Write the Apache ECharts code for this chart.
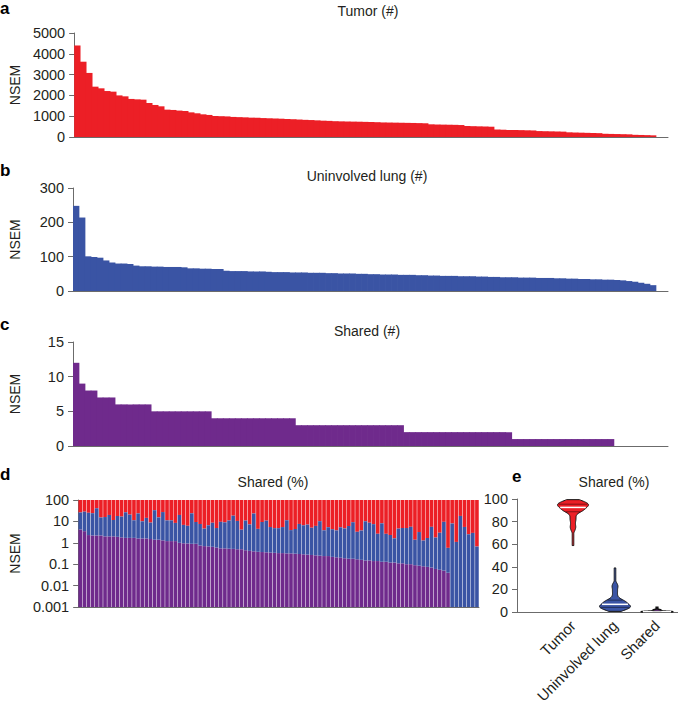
<!DOCTYPE html>
<html>
<head>
<meta charset="utf-8">
<script src="https://cdn.jsdelivr.net/npm/echarts@6/dist/echarts.min.js"></script>
<style>
html,body{margin:0;padding:0;background:#fff;}
#chart{width:678px;height:708px;}
</style>
</head>
<body>
<div id="chart"></div>
<script>
// ---------------- DATA ----------------
const sampleIds = Array.from({length: 97}, (_, i) => String(i + 1));

// Panel a: Tumor NSEM counts (#)
const tumorCounts = [4400, 3620, 3080, 2420, 2340, 2210, 2180, 2000, 1955, 1830, 1810, 1795, 1635, 1540, 1475, 1315, 1300, 1270, 1250, 1185, 1140, 1090, 1060, 1010,
  1000, 990, 965, 955, 945, 930, 920, 910, 900, 890, 880, 865, 855, 840, 825, 815, 800, 785, 775,
  760, 752, 745, 740, 735, 728, 720, 712, 700, 695, 690, 685, 680, 675, 668, 660,
  610, 600, 595, 590, 585, 575, 530, 520, 512, 505, 495, 360, 350, 340, 335, 330, 322, 315,
  285, 278, 272, 265, 258, 225, 215, 208, 200, 192, 185, 155, 148, 142, 135, 128, 105, 98, 90, 80];

// Panel b: Uninvolved lung NSEM counts (#)
const lungCounts = [248, 214, 101, 99, 97, 89, 83, 80, 80, 79, 74,
  72, 72, 71, 71, 70, 70, 70, 69, 66, 66, 65, 65, 64, 64,
  59, 58, 58, 58, 57, 57, 57, 56, 55, 55, 55, 54, 54, 54, 53, 53, 53, 52,
  52, 51, 51, 51, 50, 50, 49, 49, 48, 48, 48, 47, 47, 47, 46, 46,
  45, 45, 44, 44, 44, 43, 43, 43, 42, 42, 41, 41, 40, 40, 40, 39, 39, 39, 38, 38, 38, 37, 37,
  36, 36, 35, 35, 34, 34, 33, 33, 32, 31, 29, 27, 24, 21, 17];

// Panel c: Shared NSEM counts (#)
const sharedCounts = [12, 9, 8, 8, 7, 7, 7, 6, 6, 6, 6, 6, 6,
  5, 5, 5, 5, 5, 5, 5, 5, 5, 5,
  4, 4, 4, 4, 4, 4, 4, 4, 4, 4, 4, 4, 4, 4,
  3, 3, 3, 3, 3, 3, 3, 3, 3, 3, 3, 3, 3, 3, 3, 3, 3, 3,
  2, 2, 2, 2, 2, 2, 2, 2, 2, 2, 2, 2, 2, 2, 2, 2, 2, 2,
  1, 1, 1, 1, 1, 1, 1, 1, 1, 1, 1, 1, 1, 1, 1, 1, 1,
  0, 0, 0, 0, 0, 0, 0];

// Panel d: percentages per sample
const sharedPct = [4.2, 3.5, 2.3, 2.2, 2.2, 2.2, 2.0, 2.0, 2.0, 1.9,
  1.8, 1.7, 1.7, 1.7, 1.6, 1.6, 1.6, 1.5, 1.4, 1.4,
  1.3, 1.2, 1.2, 1.2, 1.0, 0.95, 0.93, 0.9, 0.9, 0.75,
  0.7, 0.68, 0.65, 0.6, 0.55, 0.55, 0.53, 0.52, 0.5, 0.5,
  0.45, 0.42, 0.4, 0.38, 0.37, 0.36, 0.35, 0.34, 0.33, 0.33,
  0.32, 0.32, 0.31, 0.3, 0.29, 0.28, 0.27, 0.26, 0.25, 0.24,
  0.24, 0.22, 0.21, 0.2, 0.19, 0.18, 0.18, 0.17, 0.16, 0.15,
  0.15, 0.14, 0.14, 0.13, 0.13, 0.12, 0.12, 0.11, 0.11, 0.1,
  0.1, 0.09, 0.085, 0.08, 0.075, 0.07, 0.06, 0.055, 0.05, 0.04,
  0, 0, 0, 0, 0, 0, 0];
const lungPct = [22, 25, 23, 22, 39, 13, 14, 18, 9.6, 16,
  15, 25, 19, 9.6, 22, 8.5, 13, 7.3, 32, 14,
  26, 10, 10, 7.3, 19, 5.9, 5.3, 23, 8.5, 6.8,
  3.9, 5.9, 8, 4.3, 9, 8.5, 10.5, 18, 10, 3.6,
  10.5, 6.8, 23, 4.1, 9, 10.5, 5.1, 4.5, 4.5, 5.1,
  11, 3.6, 4.1, 7.3, 6.3, 6.8, 4.8, 5.9, 10, 3.6,
  5.1, 4.1, 3.6, 5.1, 4.5, 5.9, 9, 3.1, 3.6, 10,
  8.5, 7.3, 2.5, 8, 2.5, 2.2, 1.5, 4.5, 4.8, 4.8,
  5.5, 1.3, 3.1, 1.2, 1.6, 5.5, 1.7, 2.9, 9.5, 0.54,
  8, 1.1, 18, 5.5, 2.5, 2.9, 0.67];
const tumorPct = sharedPct.map((s, i) => 100 - s - lungPct[i]);

const logTicks = ['0.001', '0.01', '0.1', '1', '10', '100'];
const violinCats = ['Tumor', 'Uninvolved lung', 'Shared'];

// ---------------- STYLE ----------------
const RED = '#ec1f26', BLUE = '#3a54a4', PURPLE = '#6f2a8c';
const FONT = 'Liberation Sans, Arial, Helvetica, sans-serif';
const TXT = '#231f20';
const AX = '#6b6b6b';
const TICKFS = 14.5;

const chart = echarts.init(document.getElementById('chart'), null, {renderer: 'svg'});

function yAxisBase(grid, min, max, interval) {
  return {
    gridIndex: grid, type: 'value', min: min, max: max, interval: interval,
    axisLine: {show: true, lineStyle: {color: AX, width: 1}},
    axisTick: {show: true, length: 5, lineStyle: {color: AX}},
    splitLine: {show: false},
    axisLabel: {fontSize: TICKFS, fontFamily: FONT, color: TXT, margin: 9, formatter: v => String(v)},
    name: 'NSEM', nameLocation: 'middle', nameGap: 51,
    nameTextStyle: {fontSize: 14, fontFamily: FONT, color: TXT}
  };
}
function xCat(grid, max) {
  const o = {
    gridIndex: grid, type: 'category', data: sampleIds,
    axisLine: {show: true, lineStyle: {color: AX, width: 1}},
    axisTick: {show: false}, axisLabel: {show: false}, splitLine: {show: false}
  };
  if (max != null) o.max = max;
  return o;
}

// panel d custom bars
function stackedPctItem(params, api) {
  const x = api.value(0), s = api.value(1), top = api.value(2);
  const w = api.size([1, 1])[0] * 0.88;
  const pBase = api.coord([x, 0.001]);
  const p100 = api.coord([x, 100]);
  const pTop = api.coord([x, top]);
  const children = [];
  const cx = pBase[0] - w / 2;
  children.push({type: 'rect', shape: {x: cx, y: p100[1], width: w, height: pTop[1] - p100[1]}, style: {fill: RED}});
  let blueBottom = pBase[1];
  if (s > 0) {
    const pS = api.coord([x, s]);
    blueBottom = pS[1];
    children.push({type: 'rect', shape: {x: cx, y: pS[1], width: w, height: pBase[1] - pS[1]}, style: {fill: PURPLE}});
  }
  children.push({type: 'rect', shape: {x: cx, y: pTop[1], width: w, height: blueBottom - pTop[1]}, style: {fill: BLUE}});
  return {type: 'group', children: children};
}

// panel e violins
const violinGroups = [tumorPct, lungPct, sharedPct];
const violinBw = [2.2, 2.0, 0.35];
const violinFill = [RED, BLUE, PURPLE];
function quantile(arr, q) {
  const a = arr.slice().sort((m, n) => m - n);
  const pos = (a.length - 1) * q, b = Math.floor(pos), r = pos - b;
  return a[b + 1] !== undefined ? a[b] + r * (a[b + 1] - a[b]) : a[b];
}
function kde(vals, bw, y) {
  let s = 0;
  for (const v of vals) { const z = (y - v) / bw; s += Math.exp(-0.5 * z * z); }
  return s;
}
function violinItem(params, api) {
  const c = api.value(0);
  const vals = violinGroups[c], bw = violinBw[c];
  const lo = Math.min(...vals), hi = Math.max(...vals);
  const steps = 90, HW = 15.5;
  const pts = [];
  let maxD = 0;
  for (let k = 0; k <= steps; k++) {
    const y = lo + (hi - lo) * k / steps;
    const d = kde(vals, bw, y);
    pts.push([y, d]);
    if (d > maxD) maxD = d;
  }
  const right = [], left = [];
  for (const [y, d] of pts) {
    const p = api.coord([c, y]);
    const hw = Math.max(d / maxD * HW, 0.8);
    right.push([p[0] + hw, p[1]]);
    left.push([p[0] - hw, p[1]]);
  }
  const children = [{type: 'polygon', shape: {points: right.concat(left.reverse())},
    style: {fill: violinFill[c], stroke: '#111', lineWidth: c === 2 ? 1.6 : 1}}];
  [0.25, 0.5, 0.75].forEach(q => {
    const yv = quantile(vals, q);
    const p = api.coord([c, yv]);
    const hw = Math.max(kde(vals, bw, yv) / maxD * HW, 0.8) - 1;
    children.push({type: 'line', shape: {x1: p[0] - hw, y1: p[1], x2: p[0] + hw, y2: p[1]},
      style: {stroke: q === 0.5 ? '#ffffff' : 'rgba(0,0,0,0.45)', lineWidth: q === 0.5 ? 1.5 : 1}});
  });
  return {type: 'group', children: children};
}

function letter(t, x, y) {
  return {type: 'text', x: x, y: y, style: {text: t, font: 'bold 17px ' + FONT, fill: '#000', align: 'left', verticalAlign: 'bottom'}};
}
function title(t, x, y) {
  return {type: 'text', x: x, y: y, style: {text: t, font: '14px ' + FONT, fill: TXT, align: 'center', verticalAlign: 'bottom'}};
}

const option = {
  animation: false,
  backgroundColor: '#fff',
  grid: [
    {left: 67, top: 33, width: 601, height: 104},
    {left: 67, top: 188, width: 601, height: 103},
    {left: 67, top: 342, width: 601, height: 104},
    {left: 67, top: 500, width: 412, height: 107},
    {left: 517, top: 499, width: 161, height: 113},
    {left: 552, top: 499, width: 128, height: 113}
  ],
  xAxis: [
    xCat(0, 98), xCat(1, 98), xCat(2, 98), xCat(3, null),
    {gridIndex: 4, type: 'value', min: 0, max: 1, axisLine: {show: true, lineStyle: {color: AX}},
      axisTick: {show: false}, axisLabel: {show: false}, splitLine: {show: false}},
    {gridIndex: 5, type: 'category', data: violinCats, axisLine: {show: false}, axisTick: {show: false},
      axisLabel: {rotate: 45, fontSize: 15, fontFamily: FONT, color: TXT, margin: 11, interval: 0}}
  ],
  yAxis: [
    yAxisBase(0, 0, 5000, 1000),
    yAxisBase(1, 0, 300, 100),
    yAxisBase(2, 0, 15, 5),
    Object.assign(yAxisBase(3, 0.001, 100, null), {
      type: 'log', logBase: 10, interval: undefined,
      axisLabel: {fontSize: TICKFS, fontFamily: FONT, color: TXT, margin: 9,
        formatter: v => { const e = Math.round(Math.log10(v)); return logTicks[e + 3] || ''; }}
    }),
    Object.assign(yAxisBase(4, 0, 100, 20), {name: ''}),
    {gridIndex: 5, type: 'value', min: 0, max: 100, show: false}
  ],
  series: [
    {type: 'bar', xAxisIndex: 0, yAxisIndex: 0, data: tumorCounts, barWidth: '112%',
      itemStyle: {color: RED}},
    {type: 'bar', xAxisIndex: 1, yAxisIndex: 1, data: lungCounts, barWidth: '112%',
      itemStyle: {color: BLUE}},
    {type: 'bar', xAxisIndex: 2, yAxisIndex: 2, data: sharedCounts, barWidth: '112%',
      itemStyle: {color: PURPLE}},
    {type: 'custom', xAxisIndex: 3, yAxisIndex: 3, renderItem: stackedPctItem,
      encode: {x: 0, y: 2},
      data: sharedPct.map((s, i) => [i, s, s + lungPct[i]])},
    {type: 'custom', xAxisIndex: 5, yAxisIndex: 5, renderItem: violinItem,
      encode: {x: 0, y: 1},
      data: violinCats.map((c, i) => [i, 50])}
  ],
  graphic: [
    letter('a', 0, 17), letter('b', 0, 179), letter('c', 0, 333), letter('d', 0, 483), letter('e', 512, 485),
    title('Tumor (#)', 368, 18), title('Uninvolved lung (#)', 367, 183), title('Shared (#)', 367, 338),
    title('Shared (%)', 273, 489), title('Shared (%)', 614, 489)
  ]
};
chart.setOption(option);
</script>
</body>
</html>
